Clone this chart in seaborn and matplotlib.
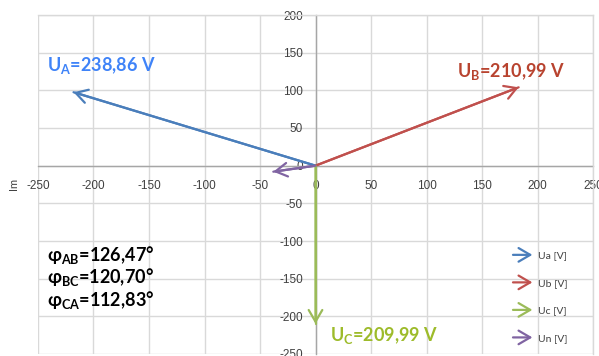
import matplotlib
matplotlib.use("Agg")
import matplotlib.pyplot as plt
import seaborn as sns
import pandas as pd
from matplotlib.patches import FancyArrowPatch
from matplotlib.legend_handler import HandlerPatch

# ---- data ----
phases = ["Ua [V]", "Ub [V]", "Uc [V]", "Un [V]"]
re_vals = [-218, 183, 0, -38]
im_vals = [97.5, 104, -210, -8]
colors = ["#4a7ebb", "#c0504d", "#9bbb59", "#8064a2"]
x_ticks = [-250, -200, -150, -100, -50, 0, 50, 100, 150, 200, 250]
y_ticks = [-250, -200, -150, -100, -50, 0, 50, 100, 150, 200]
mag_labels = ["238,86 V", "210,99 V", "209,99 V"]
mag_subs = ["A", "B", "C"]
mag_colors = ["#3f83f8", "#b8432f", "#9dbb2a"]
phi_subs = ["AB", "BC", "CA"]
phi_vals = ["126,47°", "120,70°", "112,83°"]

sns.set_theme(style="whitegrid")
plt.rcParams["font.family"] = ["Lato", "DejaVu Sans"]
plt.rcParams["mathtext.fontset"] = "custom"
plt.rcParams["mathtext.rm"] = "Lato:bold"
plt.rcParams["mathtext.bf"] = "Lato:bold"
plt.rcParams["mathtext.default"] = "regular"
plt.rcParams["axes.unicode_minus"] = False

fig = plt.figure(figsize=(5.99, 3.56), dpi=100)
ax = fig.add_axes([38 / 599, 1 - 354 / 356, 555 / 599, 339 / 356])

rows = []
for p, x, y in zip(phases, re_vals, im_vals):
    rows.append({"phase": p, "Re": 0.0, "Im": 0.0, "k": 0})
    rows.append({"phase": p, "Re": x, "Im": y, "k": 1})
df = pd.DataFrame(rows)
sns.lineplot(data=df, x="Re", y="Im", hue="phase", palette=colors, units="phase",
             estimator=None, sort=False, lw=1.6, legend=False, ax=ax, zorder=3)

astyle = "->,head_length=0.6,head_width=0.35"
for x, y, c in zip(re_vals, im_vals, colors):
    ax.annotate("", xy=(x, y), xytext=(0, 0),
                arrowprops=dict(arrowstyle=astyle, color=c, lw=1.6,
                                mutation_scale=14, shrinkA=0, shrinkB=0),
                zorder=4)

ax.set_xlim(-250, 250)
ax.set_ylim(-250, 200)
ax.set_xticks(x_ticks)
ax.set_yticks(y_ticks)
ax.set_facecolor("white")
ax.grid(True, color="#d9d9d9", lw=1.0)
ax.set_axisbelow(True)

for s in ["top", "right"]:
    ax.spines[s].set_color("#d9d9d9")
    ax.spines[s].set_linewidth(1.0)
ax.spines["left"].set_position(("data", 0))
ax.spines["bottom"].set_position(("data", 0))
for s in ["left", "bottom"]:
    ax.spines[s].set_color("#a6a6a6")
    ax.spines[s].set_linewidth(1.0)
    ax.spines[s].set_zorder(2)

ax.tick_params(axis="both", length=0, labelsize=8.5, labelcolor="#404040")
ax.tick_params(axis="x", pad=10)
ax.tick_params(axis="y", pad=9)
for lab in ax.get_xticklabels() + ax.get_yticklabels():
    lab.set_fontfamily(["Liberation Sans", "DejaVu Sans"])
ax.set_xlabel("")
ax.set_ylabel("")

fig.text(14 / 599, 1 - 184 / 356, "Im", rotation=90, fontsize=8,
         color="#404040", ha="center", va="center")

# magnitude labels
pos = [(47 / 599, 1 - 66 / 356), (457 / 599, 1 - 72 / 356), (330 / 599, 1 - 336 / 356)]
for (fx, fy), sub, val, c in zip(pos, mag_subs, mag_labels, mag_colors):
    fig.text(fx, fy, r"U$_{%s}$=%s" % (sub, val), color=c, fontsize=13,
             fontweight="bold", ha="left", va="center")

# phase angle labels
for i, (sub, val) in enumerate(zip(phi_subs, phi_vals)):
    fig.text(47 / 599, 1 - (255 + 22.5 * i) / 356, r"φ$_{%s}$=%s" % (sub, val),
             color="black", fontsize=13, fontweight="bold", ha="left", va="center")


class ArrowHandler(HandlerPatch):
    def create_artists(self, legend, orig_handle, xdescent, ydescent, width,
                       height, fontsize, trans):
        a = FancyArrowPatch((-xdescent, height / 2 - ydescent),
                            (width - xdescent, height / 2 - ydescent),
                            arrowstyle=astyle, mutation_scale=14,
                            color=orig_handle.get_edgecolor(), lw=1.6)
        a.set_transform(trans)
        return [a]


handles = [FancyArrowPatch((0, 0), (1, 0), color=c) for c in colors]
leg = ax.legend(handles, phases, handler_map={FancyArrowPatch: ArrowHandler()},
                loc="upper left", bbox_to_anchor=(505 / 599, 1 - 246 / 356),
                bbox_transform=fig.transFigure, frameon=False, fontsize=7.5,
                labelspacing=1.75, handlelength=2.4, handletextpad=0.3,
                borderpad=0)
for t in leg.get_texts():
    t.set_color("#404040")

fig.savefig("out.png", dpi=100)
